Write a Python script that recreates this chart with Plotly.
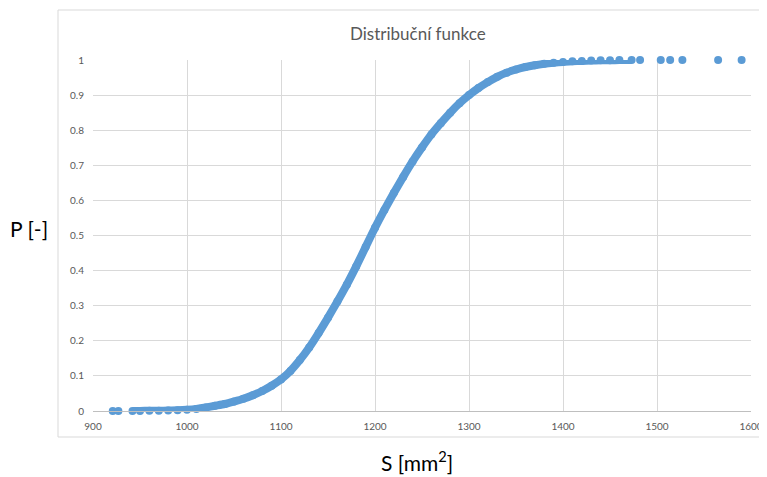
import plotly.graph_objects as go

s_core = [942, 950, 960, 970, 980, 990, 1000, 1010, 1020, 1030, 1040, 1050, 1060, 1070,
          1080, 1090, 1100, 1110, 1120, 1130, 1140, 1150, 1160, 1170, 1180, 1190, 1200,
          1210, 1220, 1230, 1240, 1250, 1260, 1270, 1280, 1290, 1300, 1310, 1320, 1330,
          1340, 1350, 1360, 1370, 1380, 1390, 1400, 1410, 1420, 1430, 1440, 1450, 1460, 1473]
p_core = [0.0002, 0.0003, 0.0005, 0.0008, 0.0013, 0.0020, 0.0035, 0.0060, 0.0100, 0.0150,
          0.020, 0.027, 0.035, 0.045, 0.057, 0.072, 0.090, 0.114, 0.145, 0.181, 0.222,
          0.266, 0.312, 0.360, 0.412, 0.467, 0.522, 0.573, 0.621, 0.667, 0.711, 0.751,
          0.788, 0.820, 0.850, 0.877, 0.900, 0.920, 0.937, 0.952, 0.964, 0.973, 0.980,
          0.985, 0.989, 0.992, 0.9945, 0.9962, 0.9975, 0.9984, 0.9990, 0.9994, 0.9997, 0.9998]
s_outliers = [921, 927, 1482, 1504, 1514, 1527, 1565, 1590]
p_outliers = [0.0000, 0.0001, 0.9998, 0.9999, 0.9999, 0.9999, 1.0000, 1.0000]

x_ticks = [900, 1000, 1100, 1200, 1300, 1400, 1500, 1600]
y_ticks = [0, 0.1, 0.2, 0.3, 0.4, 0.5, 0.6, 0.7, 0.8, 0.9, 1]

blue = "#5b9bd5"
fig = go.Figure()
fig.add_trace(go.Scatter(x=s_core, y=p_core, mode="lines+markers",
                         line=dict(color=blue, width=8, shape="spline", smoothing=0.6),
                         marker=dict(color=blue, size=8), showlegend=False,
                         cliponaxis=False))
fig.add_trace(go.Scatter(x=s_outliers, y=p_outliers, mode="markers",
                         marker=dict(color=blue, size=8), showlegend=False,
                         cliponaxis=False))

# the page has an 8px body margin, so the figure starts at (8, 8) of the window;
# the figure is a bit wider than the window so the last tick label fits inside it
OFF = 8
W, H = 775, 477 - OFF
L, R, T, B = 93 - OFF, 775 - (751 - OFF), 60 - OFF, 66
pw, ph = W - L - R, H - T - B

def px(x):
    return (x - OFF - L) / pw

def py(y):
    return (H - B - (y - OFF)) / ph

fig.add_shape(type="rect", xref="paper", yref="paper",
              x0=px(58), x1=px(790), y0=py(437), y1=py(10),
              line=dict(color="#d9d9d9", width=1), fillcolor="rgba(0,0,0,0)", layer="below")

tick_font = dict(family="Lato, Open Sans, sans-serif", size=10, color="#595959")
fig.update_layout(
    width=W, height=H, autosize=False,
    margin=dict(l=L, r=R, t=T, b=B, autoexpand=False),
    paper_bgcolor="white", plot_bgcolor="white",
    font=dict(family="Lato, Open Sans, sans-serif"),
    xaxis=dict(range=[900, 1600], tickvals=x_ticks, showgrid=True, gridcolor="#d9d9d9",
               gridwidth=1, zeroline=False, showline=True, linecolor="#bfbfbf",
               ticks="", tickfont=tick_font, ticklabelstandoff=6, automargin=False),
    yaxis=dict(range=[0, 1], tickvals=y_ticks, showgrid=True, gridcolor="#d9d9d9",
               gridwidth=1, zeroline=False, showline=False, ticks="",
               tickfont=tick_font, ticklabelstandoff=8, automargin=False),
    annotations=[
        dict(text="Distribuční funkce", xref="paper", yref="paper", x=px(418), y=py(33),
             showarrow=False, font=dict(size=17, color="#595959"), xanchor="center", yanchor="middle"),
        dict(text="P [-]", xref="paper", yref="paper", x=px(29), y=py(228),
             showarrow=False, font=dict(size=21, color="black"), xanchor="center", yanchor="middle"),
        dict(text="S [mm<sup>2</sup>]", xref="paper", yref="paper", x=px(417), y=py(461),
             showarrow=False, font=dict(size=21, color="black"), xanchor="center", yanchor="middle"),
    ],
)
fig.write_html("out.html")
